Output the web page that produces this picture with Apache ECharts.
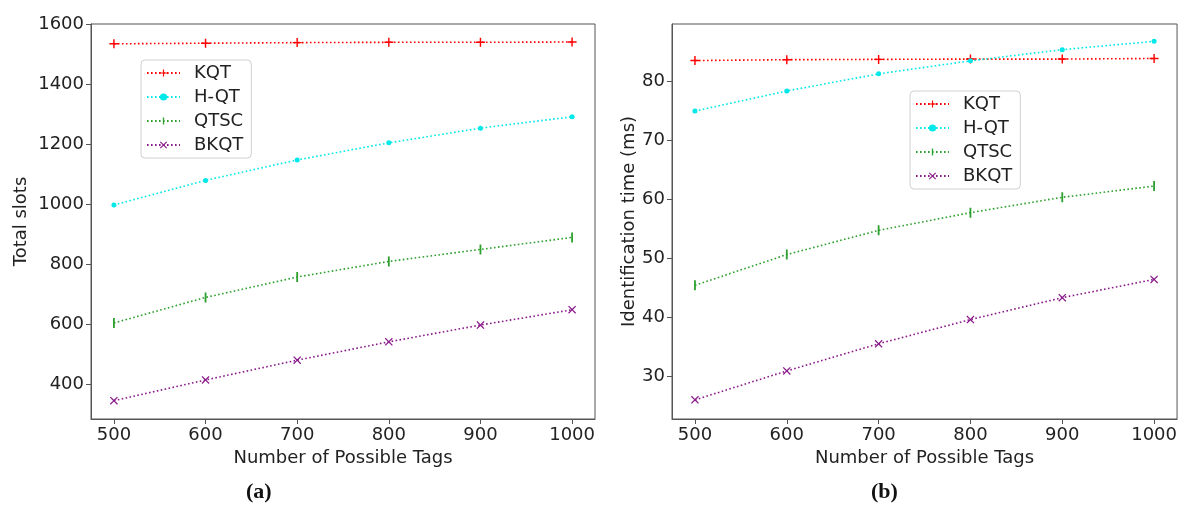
<!DOCTYPE html>
<html>
<head>
<meta charset="utf-8">
<script src="https://cdn.jsdelivr.net/npm/echarts@6/dist/echarts.min.js"></script>
<style>
	html, body { margin: 0; padding: 0; background: #fff; }
	#main { width: 1180px; height: 506px; }
</style>
</head>
<body>
<div id="main"></div>
<script>
// data
let tags = [500, 600, 700, 800, 900, 1000]
let seriesNames = ['KQT', 'H-QT', 'QTSC', 'BKQT']

// (a) total slots
let slotsKQT = [1535, 1537, 1539, 1540, 1540, 1541]
let slotsHQT = [998, 1080, 1148, 1205, 1254, 1292]
let slotsQTSC = [605, 690, 758, 810, 850, 890]
let slotsBKQT = [346, 415, 481, 542, 598, 649]

// (b) identification time (ms)
let timeKQT = [83.45, 83.6, 83.65, 83.7, 83.7, 83.8]
let timeHQT = [74.9, 78.3, 81.2, 83.4, 85.3, 86.7]
let timeQTSC = [45.4, 50.6, 54.7, 57.7, 60.3, 62.2]
let timeBKQT = [26.0, 30.9, 35.5, 39.6, 43.3, 46.4]

let xTicks = [500, 600, 700, 800, 900, 1000]
let slotsTicks = [400, 600, 800, 1000, 1200, 1400, 1600]
let timeTicks = [30, 40, 50, 60, 70, 80]

let colors = ['#ff0000', '#00e8e8', '#2ca02c', '#8a1a8a']

let plusPath = 'path://M4.2,0H5.8V4.2H10V5.8H5.8V10H4.2V5.8H0V4.2H4.2Z'
let crossPath = 'path://M0,1.1L1.1,0L5,3.9L8.9,0L10,1.1L6.1,5L10,8.9L8.9,10L5,6.1L1.1,10L0,8.9L3.9,5Z'
// empty points at x=0 / x=10 keep the box square so the bar stays thin in the legend too
let vlinePath = 'path://M0,5L0,5ZM10,5L10,5ZM4.1,0H5.9V10H4.1Z'
let symbols = [plusPath, 'circle', vlinePath, crossPath]
let symbolSizes = [9, 5, 10, 8]

let font = 'DejaVu Sans'
let fs = 18

function makeSeries(name, idx, values, axisIdx) {
	let pts = []
	for (let i = 0; i < tags.length; i++) {
		pts.push([tags[i], values[i]])
	}
	return {
		name: name,
		type: 'line',
		xAxisIndex: axisIdx,
		yAxisIndex: axisIdx,
		data: pts,
		symbol: symbols[idx],
		symbolSize: symbolSizes[idx],
		symbolKeepAspect: true,
		color: colors[idx],
		itemStyle: { color: colors[idx] },
		lineStyle: { color: colors[idx], width: 1.6, type: [1.6, 2.4] },
		emphasis: { disabled: true }
	}
}

function plain(v) {
	return String(v)
}

function makeXAxis(gridIdx) {
	return {
		type: 'value',
		gridIndex: gridIdx,
		min: 475,
		max: 1025,
		name: 'Number of Possible Tags',
		nameLocation: 'middle',
		nameGap: 29,
		nameTextStyle: { fontFamily: font, fontSize: fs, color: '#222' },
		axisLine: { show: true, lineStyle: { color: '#555', width: 1 } },
		axisTick: { show: true, length: 5, lineStyle: { color: '#555' }, customValues: xTicks },
		axisLabel: { fontFamily: font, fontSize: fs, color: '#222', margin: 7, customValues: xTicks, formatter: plain },
		splitLine: { show: false }
	}
}

function makeYAxis(gridIdx, name, min, max, ticks, gap) {
	return {
		type: 'value',
		gridIndex: gridIdx,
		min: min,
		max: max,
		name: name,
		nameLocation: 'middle',
		nameGap: gap,
		nameTextStyle: { fontFamily: font, fontSize: fs, color: '#222' },
		axisLine: { show: true, lineStyle: { color: '#555', width: 1 } },
		axisTick: { show: true, length: 5, lineStyle: { color: '#555' }, customValues: ticks },
		axisLabel: { fontFamily: font, fontSize: fs, color: '#222', margin: 7, customValues: ticks, formatter: plain },
		splitLine: { show: false }
	}
}

function makeLegend(left, top) {
	return {
		left: left,
		top: top,
		orient: 'vertical',
		data: seriesNames,
		itemWidth: 33,
		itemHeight: 9,
		itemGap: 6,
		padding: [4, 8, 4, 5],
		borderColor: '#d0d0d0',
		borderWidth: 1,
		borderRadius: 4,
		backgroundColor: '#fff',
		selectedMode: false,
		textStyle: { fontFamily: font, fontSize: fs, color: '#222', lineHeight: 18, padding: [0, 0, 0, 9] }
	}
}

function init() {
	let chartDom = document.getElementById('main')
	let myChart = echarts.init(chartDom)

	let series = [
		makeSeries('KQT', 0, slotsKQT, 0),
		makeSeries('H-QT', 1, slotsHQT, 0),
		makeSeries('QTSC', 2, slotsQTSC, 0),
		makeSeries('BKQT', 3, slotsBKQT, 0),
		makeSeries('KQT', 0, timeKQT, 1),
		makeSeries('H-QT', 1, timeHQT, 1),
		makeSeries('QTSC', 2, timeQTSC, 1),
		makeSeries('BKQT', 3, timeBKQT, 1)
	]

	let chartOption = {
		animation: false,
		backgroundColor: '#fff',
		grid: [
			{ left: 91, right: 585, top: 24, bottom: 87, show: true, borderColor: '#555', borderWidth: 1, containLabel: false },
			{ left: 672, right: 2, top: 24, bottom: 87, show: true, borderColor: '#555', borderWidth: 1, containLabel: false }
		],
		xAxis: [makeXAxis(0), makeXAxis(1)],
		yAxis: [
			makeYAxis(0, 'Total slots', 285, 1601, slotsTicks, 61),
			makeYAxis(1, 'Identification time (ms)', 22.76, 89.64, timeTicks, 32)
		],
		legend: [makeLegend(141, 60), makeLegend(910, 91)],
		graphic: [
			{ type: 'text', left: 246, top: 481, style: { text: '(a)', font: 'bold 22px "Liberation Serif"', fill: '#111' } },
			{ type: 'text', left: 871, top: 481, style: { text: '(b)', font: 'bold 22px "Liberation Serif"', fill: '#111' } }
		],
		series: series
	}

	chartOption && myChart.setOption(chartOption)
}

init()
</script>
</body>
</html>
